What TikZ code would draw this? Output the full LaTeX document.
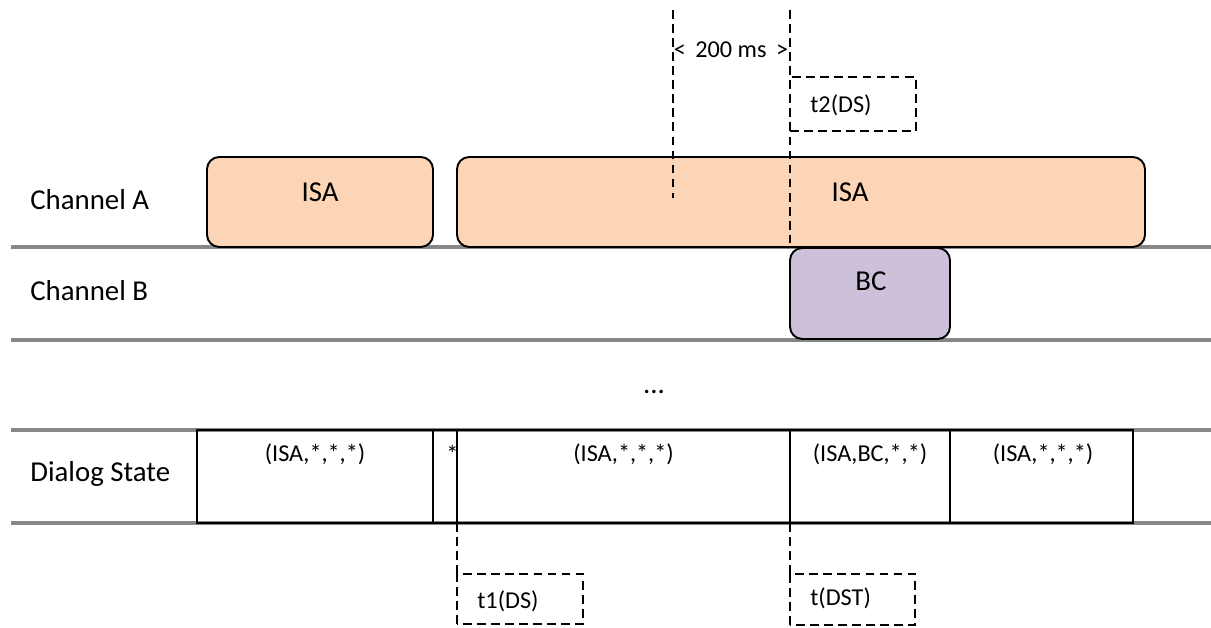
\documentclass[tikz,border=0pt]{standalone}
\usepackage{fontspec}
\setmainfont{Carlito}
\definecolor{isafill}{HTML}{FBD5B5}
\definecolor{bcfill}{HTML}{CCC0DA}
\definecolor{lanegray}{HTML}{878787}
\begin{document}
\begin{tikzpicture}[
    lane/.style={draw=lanegray, line width=2.2pt},
    isabox/.style={draw=black, line width=1.1pt, rounded corners=7pt, fill=isafill},
    bcbox/.style={draw=black, line width=1.1pt, rounded corners=7pt, fill=bcfill},
    statebox/.style={draw=black, line width=1.1pt},
    marker/.style={draw=black, line width=1.1pt, dash pattern=on 5pt off 3pt},
    lbl/.style={inner sep=0pt, font=\fontsize{16.4}{19}\selectfont},
    sml/.style={inner sep=0pt, font=\fontsize{13.8}{16}\selectfont}
]
\useasboundingbox (0,0) rectangle (24.22,12.56);

% Lanes
\draw[lane] (0.22,7.62) -- (24.22,7.62);
\draw[lane] (0.22,5.76) -- (24.22,5.76);
\draw[lane] (0.22,3.96) -- (24.22,3.96);
\draw[lane] (0.22,2.10) -- (24.22,2.10);

\node[lbl, anchor=west] (chA) at (0.60,8.56) {Channel A};
\node[lbl, anchor=west] (chB) at (0.60,6.74) {Channel B};
\node[lbl, anchor=west] (dlg) at (0.60,3.08) {Dialog State};

% Channel A
\draw[isabox] (4.14,7.62) rectangle (8.66,9.42);
\node[lbl] (isa1) at (6.40,8.72) {ISA};

\draw[isabox] (9.14,7.62) rectangle (22.90,9.42);
\node[lbl] (isa2) at (17.00,8.72) {ISA};

% Channel B
\draw[bcbox] (15.80,5.78) rectangle (19.00,7.60);
\node[lbl] (bc) at (17.42,6.94) {BC};

\node[lbl] (dots) at (13.08,4.72) {...};

% Dialog State
\draw[statebox] (3.94,2.10) rectangle (8.66,3.96);
\node[sml] (ds1) at (6.30,3.48) {(ISA,*,*,*)};

\draw[statebox] (8.66,2.10) rectangle (9.14,3.96);
\node[sml] (ds2) at (9.05,3.48) {*};

\draw[statebox] (9.14,2.10) rectangle (15.80,3.96);
\node[sml] (ds3) at (12.47,3.48) {(ISA,*,*,*)};

\draw[statebox] (15.80,2.10) rectangle (19.00,3.96);
\node[sml] (ds4) at (17.40,3.48) {(ISA,BC,*,*)};

\draw[statebox] (19.00,2.10) rectangle (22.66,3.96);
\node[sml] (ds5) at (20.86,3.48) {(ISA,*,*,*)};

% Timers
\coordinate (m1top) at (13.46,12.36);
\coordinate (m1bot) at (13.46,8.60);
\coordinate (m2top) at (15.80,12.36);
\coordinate (m2bot) at (15.80,7.70);
\draw[marker] (m1top) -- (m1bot);
\draw[marker] (m2top) -- (m2bot);
\node[sml] (gap) at (14.62,11.56) {<\, 200 ms \,>};

\draw[marker] (15.80,9.94) rectangle (18.32,11.02);
\node[sml, anchor=west] (t2) at (16.20,10.46) {t2(DS)};

\coordinate (m3top) at (9.14,2.10);
\coordinate (m3bot) at (9.14,1.08);
\coordinate (m4top) at (15.80,2.10);
\coordinate (m4bot) at (15.80,1.08);
\draw[marker] (m3top) -- (m3bot);
\draw[marker] (m4top) -- (m4bot);

\draw[marker] (9.14,0.08) rectangle (11.66,1.08);
\node[sml, anchor=west] (t1) at (9.54,0.54) {t1(DS)};

\draw[marker] (15.80,0.06) rectangle (18.30,1.08);
\node[sml, anchor=west] (tdst) at (16.20,0.60) {t(DST)};

\end{tikzpicture}
\end{document}
